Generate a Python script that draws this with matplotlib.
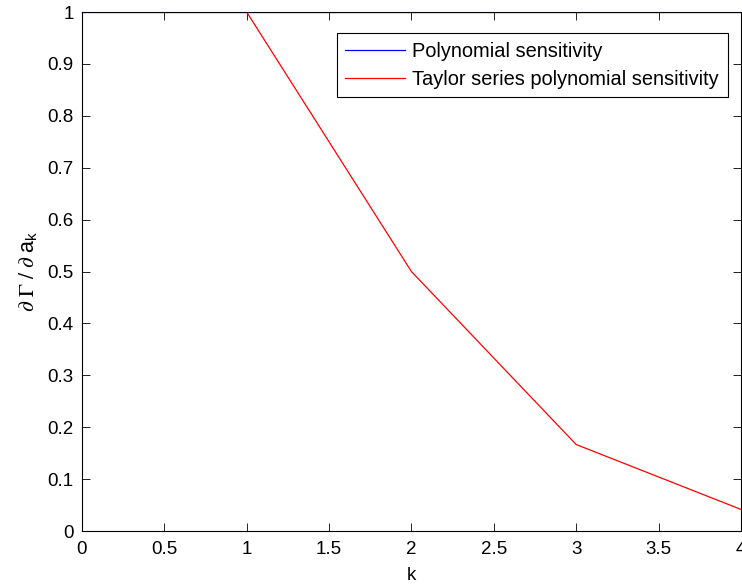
import numpy as np
import matplotlib
matplotlib.use("Agg")
import matplotlib.pyplot as plt

plt.rcParams['font.family'] = ['Liberation Sans', 'DejaVu Sans']
plt.rcParams['mathtext.fontset'] = 'stix'

# sensitivity of the polynomial coefficients, k = 0..4
k = [0, 1, 2, 3, 4]
poly_sens = [1, 1, 1, 1, 1]
taylor_sens = [1, 1, 1/2, 1/6, 1/24]

xticks = np.arange(0, 4.01, 0.5)
xlabels = ['0', '0.5', '1', '1.5', '2', '2.5', '3', '3.5', '4']
yticks = np.arange(0, 1.01, 0.1)
ylabels = ['0', '0.1', '0.2', '0.3', '0.4', '0.5', '0.6', '0.7', '0.8', '0.9', '1']

fig = plt.figure(figsize=(7.42, 5.85), dpi=100)
ax = fig.add_axes([0.1105, 0.0923, 0.888, 0.887])

ax.plot(k, poly_sens, color='#0000ff', lw=0.9, label='Polynomial sensitivity')
ax.plot(k, taylor_sens, color='#ff0000', lw=0.9, label='Taylor series polynomial sensitivity')

ax.set_xlim(0, 4)
ax.set_ylim(0, 1)
ax.set_xticks(xticks)
ax.set_xticklabels(xlabels)
ax.set_yticks(yticks)
ax.set_yticklabels(ylabels)
ax.tick_params(direction='in', length=6, width=0.6, labelsize=13.5, top=True, right=True)
ax.tick_params(axis='x', pad=7)
ax.tick_params(axis='y', pad=6)
for s in ax.spines.values():
    s.set_linewidth(0.8)

ax.set_xlabel('k', fontsize=13.5, labelpad=7)
ax.set_ylabel(r'$\partial\ \Gamma\ /\ \partial\ \mathregular{a}_{\mathregular{k}}$',
              fontsize=15.5, labelpad=6)

leg = ax.legend(loc='upper right', bbox_to_anchor=(0.980, 0.9595), fontsize=14.4,
                fancybox=False, framealpha=1, edgecolor='black',
                handlelength=3.0, handletextpad=0.35, borderaxespad=0,
                borderpad=0.43, labelspacing=0.45)
leg.get_frame().set_linewidth(0.8)

fig.savefig('out.png', dpi=100)
